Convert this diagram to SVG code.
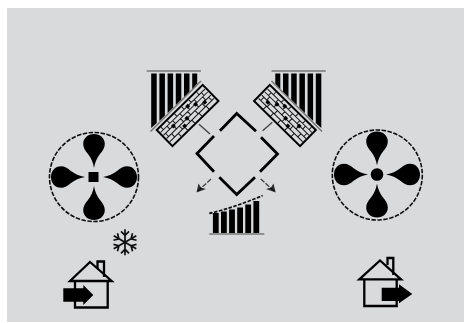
<svg xmlns="http://www.w3.org/2000/svg" xmlns:xlink="http://www.w3.org/1999/xlink" width="464" height="323" viewBox="0 0 464 323">
<style>
.ring{fill:none;stroke:#111;stroke-width:1.6;stroke-dasharray:4.500 1.500}
.ink{fill:#000}
.wall{fill:none;stroke:#000;stroke-width:2.300}
.dia{fill:none;stroke:#000;stroke-width:2.800}
.thin{fill:none;stroke:#444;stroke-width:1.400}
.gray{fill:none;stroke:#777;stroke-width:1.600}
.cell{fill:none;stroke:#111;stroke-width:1}
.flake{fill:none;stroke:#111;stroke-width:1.700}
</style>
<defs>
<filter id="soft" x="0" y="0" width="464" height="323" filterUnits="userSpaceOnUse"><feGaussianBlur stdDeviation="0.45"/></filter>
<path id="blade" class="ink" d="M0,-9C-1,-15 -3,-19 -6,-23C-9,-26.500 -10.800,-29.500 -10.800,-33C-10.800,-39 -6,-43 0,-43C6,-43 10.800,-39 10.800,-33C10.800,-29.500 9,-26.500 6,-23C3,-19 1,-15 0,-9Z"/>
<g id="blades">
<use xlink:href="#blade" href="#blade"/>
<use xlink:href="#blade" href="#blade" transform="rotate(90)"/>
<use xlink:href="#blade" href="#blade" transform="rotate(180)"/>
<use xlink:href="#blade" href="#blade" transform="rotate(270)"/>
</g>
<g id="slats">
<path class="gray" d="M146.700,71H201"/>
<path class="gray" d="M150.500,131.500L201,81"/>
<path class="ink" d="M151.200,73.500H156.700V123L151.200,128ZM159.400,73.500H164.900V115.500L159.400,121ZM167.600,73.500H173.100V107.500L167.600,113ZM175.800,73.500H181.300V99.500L175.800,105ZM184,73.500H189.500V91.500L184,97ZM192.200,73.500H197.200V83.500L192.200,89Z"/>
</g>
<g id="filter">
<g transform="translate(156.700,130) rotate(-44.400)">
<rect width="64.400" height="22.500" fill="#d9dadc" stroke="#000" stroke-width="2"/>
<path class="cell" d="M1,4.500H63M1,8.500H63M1,13H63M1,17.500H63M5,1V4.500M10,4.500V8.500M4,8.500V13M8,13V17.500M13,17.500V22M14,1V4.500M18,4.500V8.500M15,8.500V13M19,13V17.500M22,17.500V22M24,1V4.500M28,4.500V8.500M25,8.500V13M30,13V17.500M32,17.500V22M34,1V4.500M38,4.500V8.500M35,8.500V13M41,13V17.500M42,17.500V22M44,1V4.500M48,4.500V8.500M46,8.500V13M51,13V17.500M52,17.500V22M55,1V4.500M58,4.500V8.500M56,8.500V13M60,13V17.500"/>
<path class="ink" d="M13,7h3.500v3.500h-3.500zM28,11h3.500v3.500h-3.500zM44,7h3.500v3.500h-3.500zM21,15h3.500v3.500h-3.500zM37,3h3.500v3.500h-3.500zM52,12h3.500v3.500h-3.500z"/>
</g>
</g>
</defs>
<rect x="7" y="8" width="457" height="314" fill="#d9dadc"/>
<g filter="url(#soft)">
<g id="connectors">
<path class="thin" d="M199,124.300L210,134"/>
<path class="thin" d="M262.700,130.700L272.300,122.300"/>
<path class="thin" stroke-dasharray="5 1.500" d="M211,179L198,191"/>
<path class="ink" fill-opacity=".8" d="M196.500,192.500L198.500,183.500L201,187.500L206,189Z"/>
<path class="thin" stroke-dasharray="5 1.500" d="M260.700,179L274,191"/>
<path class="ink" fill-opacity=".8" d="M275.700,192.500L273.500,183.500L271,187.500L266,189Z"/>
</g>
<g id="fan-left">
<circle class="ring" cx="94" cy="177" r="44.500"/>
<use xlink:href="#blades" href="#blades" x="94" y="177"/>
<rect class="ink" x="88.500" y="172" width="10" height="10"/>
</g>
<g id="fan-right">
<circle class="ring" cx="377.300" cy="175" r="45"/>
<use xlink:href="#blades" href="#blades" x="377" y="174.500"/>
<circle class="ink" cx="377" cy="174.500" r="6.300"/>
</g>
<g id="slats-left"><use xlink:href="#slats" href="#slats"/></g>
<g id="slats-right"><use xlink:href="#slats" href="#slats" transform="translate(472.500,0) scale(-1,1)"/></g>
<g id="filter-left"><use xlink:href="#filter" href="#filter"/></g>
<g id="filter-right"><use xlink:href="#filter" href="#filter" transform="translate(472.500,0) scale(-1,1)"/></g>
<g id="exchanger">
<path class="dia" d="M220,130.700L236.700,113.500L256,131.300"/>
<path class="dia" d="M214,136L197,153.500L214,171.700"/>
<path class="dia" d="M261,137.300L277.500,154L260,171.700"/>
<path class="dia" d="M219.300,177.300L236.700,194.500L255,177.300"/>
</g>
<g id="slats-bottom">
<path class="gray" d="M209.300,234H264.300"/>
<path class="flake" stroke-dasharray="3.500 1.500" d="M209.300,213.300C225,210 245,203 262.700,195.500"/>
<path class="ink" d="M212.900,213H218.700V232.900H212.900ZM221,211.500H226.800V232.900H221ZM229.100,209.500H234.900V232.900H229.100ZM237.200,207.500H243V232.900H237.200ZM245.300,204.500H251.100V232.900H245.300ZM253.400,201H259.200V232.900H253.400Z"/>
</g>
<g id="snowflake" transform="translate(125,242.300)">
<path class="flake" d="M0,-13V13M-4,-11L0,-7L4,-11M-4,11L0,7L4,11"/>
<path class="flake" d="M0,-13V13M-4,-11L0,-7L4,-11M-4,11L0,7L4,11" transform="rotate(60)"/>
<path class="flake" d="M0,-13V13M-4,-11L0,-7L4,-11M-4,11L0,7L4,11" transform="rotate(120)"/>
</g>
<g id="house-left">
<path class="wall" d="M75,281V307.500H107.700V281"/>
<path class="wall" d="M70,281H111.700L90,262L70,281Z"/>
<path class="wall" d="M97.500,268V261.500H104V277"/>
<path class="ink" d="M63.300,288.300H83.300V285L93.300,295L83.300,305V301.700H63.300Z"/>
</g>
<g id="house-right">
<path class="wall" d="M364.300,279.300V306H396.700V279.300"/>
<path class="wall" d="M359.300,279.300H401L380,260.500Z"/>
<path class="wall" d="M387.500,265V258H393.300V275"/>
<path class="ink" d="M381.700,287.700H399V284.300L412.300,294L399,303.300V301H381.700Z"/>
</g>
</g>
</svg>
